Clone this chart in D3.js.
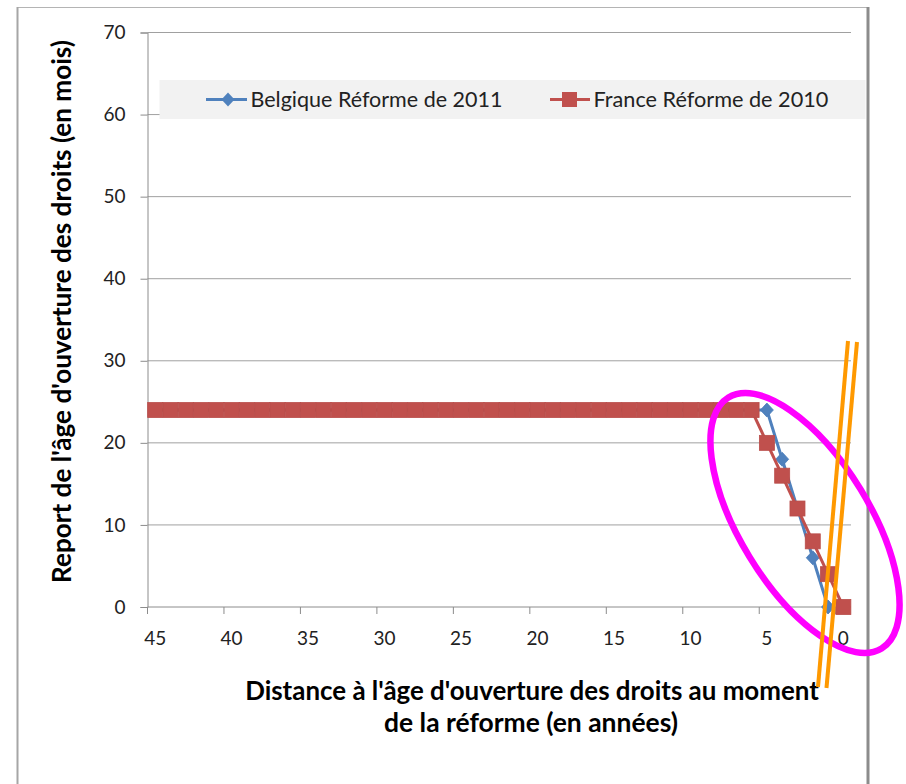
<!DOCTYPE html>
<html><head><meta charset="utf-8">
<script src="https://cdn.jsdelivr.net/npm/d3@7"></script>
<style>body{margin:0;background:#fff;} svg{display:block;}</style>
</head><body>
<svg id="c" width="906" height="784"></svg>
<script>
// ---- data ----
const categories = [45,44,43,42,41,40,39,38,37,36,35,34,33,32,31,30,29,28,27,26,25,24,23,22,21,20,19,18,17,16,15,14,13,12,11,10,9,8,7,6,5,4,3,2,1,0];
const belgique = [24,24,24,24,24,24,24,24,24,24,24,24,24,24,24,24,24,24,24,24,24,24,24,24,24,24,24,24,24,24,24,24,24,24,24,24,24,24,24,24,24,18,12,6,0,null];
const france   = [24,24,24,24,24,24,24,24,24,24,24,24,24,24,24,24,24,24,24,24,24,24,24,24,24,24,24,24,24,24,24,24,24,24,24,24,24,24,24,24,20,16,12,8,4,0];
const xTickLabels = [45,40,35,30,25,20,15,10,5,0];
const yTicks = [0,10,20,30,40,50,60,70];
const seriesNames = ["Belgique Réforme de 2011","France Réforme de 2010"];
const xTitle = ["Distance à l'âge d'ouverture des droits au moment","de la réforme (en années)"];
const yTitle = "Report de l'âge d'ouverture des droits (en mois)";

const FONT = "Lato, 'Open Sans', sans-serif";
const blue = "#4f81bd", red = "#c0504d";
const svg = d3.select("#c");

// outer frame
svg.append("line").attr("x1",17).attr("x2",868).attr("y1",7.5).attr("y2",7.5).attr("stroke","#b4b4b4").attr("stroke-width",1);
svg.append("line").attr("x1",17.5).attr("x2",17.5).attr("y1",7).attr("y2",784).attr("stroke","#a6a6a6").attr("stroke-width",2);
svg.append("line").attr("x1",868).attr("x2",868).attr("y1",7).attr("y2",784).attr("stroke","#8c8c8c").attr("stroke-width",3);

const x = d3.scaleBand().domain(categories).range([147.5, 851]).paddingInner(0).paddingOuter(0);
const cx = d => x(d) + x.bandwidth()/2;
const y = d3.scaleLinear().domain([0,70]).range([607, 32.5]);

// gridlines
svg.append("g").selectAll("line").data(yTicks.filter(v=>v>0)).join("line")
  .attr("x1",147.5).attr("x2",851).attr("y1",d=>y(d)).attr("y2",d=>y(d))
  .attr("stroke","#a0a0a0").attr("stroke-width",1);

// y axis
const gy = svg.append("g").attr("transform","translate(147.5,0)")
  .call(d3.axisLeft(y).tickValues(yTicks).tickSize(7).tickPadding(15).tickFormat(d3.format("d")));
gy.select(".domain").attr("stroke","#8c8c8c");
gy.selectAll(".tick line").attr("stroke","#8c8c8c");
gy.selectAll("text").attr("font-family",FONT).attr("font-size",19).attr("fill","#222");

// x axis
const gx = svg.append("g").attr("transform",`translate(0,${y(0)})`)
  .call(d3.axisBottom(x).tickValues(xTickLabels).tickSize(0).tickPadding(25));
gx.select(".domain").remove();
gx.selectAll("text").attr("font-family",FONT).attr("font-size",19).attr("fill","#222");
svg.append("line").attr("x1",147.5).attr("x2",851).attr("y1",y(0)).attr("y2",y(0)).attr("stroke","#8c8c8c");
svg.append("g").selectAll("line").data(xTickLabels).join("line")
  .attr("x1",d=>x(d)).attr("x2",d=>x(d)).attr("y1",y(0)).attr("y2",y(0)+7).attr("stroke","#8c8c8c");

// series
const line = d3.line().defined(d=>d.v!=null).x(d=>cx(d.c)).y(d=>y(d.v));
const bData = categories.map((c,i)=>({c, v:belgique[i]}));
const fData = categories.map((c,i)=>({c, v:france[i]}));
const diamond = "M0,-7L6.5,0L0,7L-6.5,0Z";

svg.append("path").datum(bData).attr("d",line).attr("fill","none").attr("stroke",blue).attr("stroke-width",3).attr("stroke-linejoin","round");
svg.append("g").selectAll("path").data(bData.filter(d=>d.v!=null)).join("path")
  .attr("d",diamond).attr("transform",d=>`translate(${cx(d.c)},${y(d.v)})`)
  .attr("fill",blue).attr("stroke","#4a7ebb").attr("stroke-width",0.8);

svg.append("path").datum(fData).attr("d",line).attr("fill","none").attr("stroke",red).attr("stroke-width",3).attr("stroke-linejoin","round");
svg.append("g").selectAll("rect").data(fData).join("rect")
  .attr("x",d=>cx(d.c)-7.5).attr("y",d=>y(d.v)-7.5).attr("width",15).attr("height",15)
  .attr("fill",red).attr("stroke","#b94d4a").attr("stroke-width",0.8);

// helper: fit text to a target width
function fit(sel, w){
  const n = sel.node(); const L = n.getComputedTextLength();
  const fs = parseFloat(sel.attr("font-size"));
  sel.attr("font-size", fs * w / L);
}

// legend
svg.append("rect").attr("x",159.5).attr("y",80).attr("width",706).attr("height",39).attr("fill","#f2f2f2");
const legY = 99.5;
svg.append("line").attr("x1",206).attr("x2",247).attr("y1",legY).attr("y2",legY).attr("stroke",blue).attr("stroke-width",3);
svg.append("path").attr("d",diamond).attr("transform",`translate(228,${legY})`).attr("fill",blue);
fit(svg.append("text").attr("x",250.5).attr("y",legY).attr("dy","0.35em").attr("font-family",FONT).attr("font-size",20).attr("fill","#222").text(seriesNames[0]),252);
svg.append("line").attr("x1",550).attr("x2",590).attr("y1",legY).attr("y2",legY).attr("stroke",red).attr("stroke-width",3);
svg.append("rect").attr("x",562).attr("y",legY-7.5).attr("width",15).attr("height",15).attr("fill",red);
fit(svg.append("text").attr("x",593.5).attr("y",legY).attr("dy","0.35em").attr("font-family",FONT).attr("font-size",20).attr("fill","#222").text(seriesNames[1]),235);

// axis titles
fit(svg.append("text").attr("x",532).attr("y",700).attr("text-anchor","middle").attr("font-family",FONT).attr("font-weight","bold").attr("font-size",22).attr("fill","#000").text(xTitle[0]),574);
fit(svg.append("text").attr("x",531).attr("y",732).attr("text-anchor","middle").attr("font-family",FONT).attr("font-weight","bold").attr("font-size",22).attr("fill","#000").text(xTitle[1]),294);
fit(svg.append("text").attr("transform","translate(71,311.5) rotate(-90)").attr("text-anchor","middle").attr("font-family",FONT).attr("font-weight","bold").attr("font-size",22).attr("fill","#000").text(yTitle),543);

// annotations (hand-drawn highlight)
svg.append("ellipse").attr("cx",805).attr("cy",523).attr("rx",147).attr("ry",65)
  .attr("transform","rotate(58.6,805,523)").attr("fill","none").attr("stroke","#ff00ff").attr("stroke-width",6.5);
svg.append("line").attr("x1",848).attr("y1",341).attr("x2",818).attr("y2",687).attr("stroke","#ff9900").attr("stroke-width",4);
svg.append("line").attr("x1",857).attr("y1",342).attr("x2",826.5).attr("y2",688).attr("stroke","#ff9900").attr("stroke-width",4);
</script>
</body></html>
